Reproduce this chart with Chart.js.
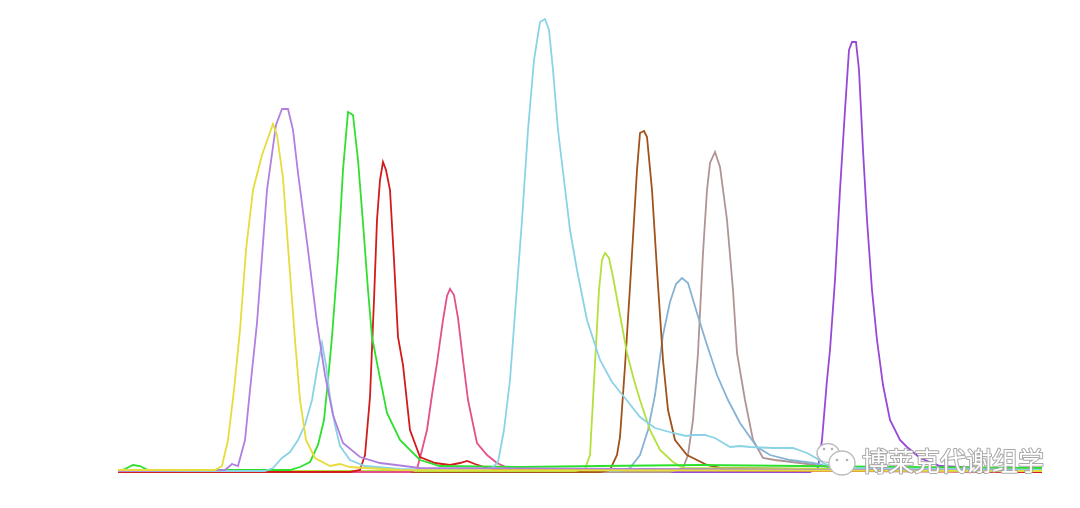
<!DOCTYPE html>
<html>
<head>
<meta charset="utf-8">
<script src="https://cdn.jsdelivr.net/npm/chart.js@4.4.2/dist/chart.umd.min.js"></script>
<style>
  html, body { margin: 0; padding: 0; background: #ffffff; }
  #wrap { width: 1080px; height: 508px; }
</style>
</head>
<body>
<div id="wrap"><canvas id="chrom" width="1080" height="508"></canvas></div>
<script>
// retention time (min), intensity (x10^4)
const yellowTrace = [[0,0.2],[0.97,0.2],[1.04,0.6],[1.10,3.2],[1.16,8.2],[1.22,14.2],[1.28,22.2],[1.35,28.2],[1.44,31.7],[1.55,34.8],[1.59,33.7],[1.65,29.4],[1.71,21.2],[1.77,13.2],[1.82,7.2],[1.88,3.2],[1.97,1.4],[2.12,0.6],[2.22,0.8],[2.32,0.5],[2.82,0.2],[9.24,0.1]];
const lavenderTrace = [[0,0.1],[1.07,0.2],[1.14,0.8],[1.20,0.6],[1.27,3.2],[1.32,8.2],[1.39,14.9],[1.49,28.2],[1.58,34.7],[1.64,36.3],[1.70,36.3],[1.75,34.2],[1.80,29.9],[1.90,22.2],[1.99,14.9],[2.07,9.7],[2.15,5.7],[2.25,2.9],[2.42,1.5],[2.62,0.9],[3.02,0.4],[9.24,0.1]];
const cyanTrace = [[0,0.1],[1.47,0.1],[1.55,0.4],[1.64,1.4],[1.72,2.0],[1.80,3.2],[1.87,4.7],[1.94,7.2],[1.99,10.2],[2.04,12.9],[2.08,10.7],[2.12,7.5],[2.17,4.7],[2.22,2.6],[2.32,1.2],[2.47,0.6],[2.82,0.3],[3.72,0.2],[3.80,1.0],[3.86,4.2],[3.92,9.2],[3.98,17.2],[4.04,25.2],[4.10,34.2],[4.16,41.2],[4.22,45.0],[4.27,45.3],[4.31,44.2],[4.35,40.2],[4.40,34.2],[4.46,29.2],[4.52,24.2],[4.59,20.2],[4.69,15.2],[4.82,11.2],[4.94,9.0],[5.07,7.4],[5.22,5.5],[5.37,4.4],[5.55,3.9],[5.68,3.6],[5.75,3.7],[5.87,3.7],[5.97,3.4],[6.12,2.5],[6.22,2.6],[6.32,2.5],[6.55,2.4],[6.75,2.4],[6.89,1.9],[6.98,1.4],[7.05,0.9],[7.17,0.4],[9.24,0.2]];
const greenTrace = [[0,0.1],[0.07,0.3],[0.15,0.7],[0.22,0.6],[0.30,0.2],[0.82,0.2],[1.72,0.2],[1.82,0.5],[1.92,1.0],[2.00,2.7],[2.06,5.2],[2.10,9.2],[2.14,13.5],[2.20,21.5],[2.25,30.2],[2.30,36.0],[2.35,35.7],[2.40,31.2],[2.45,24.9],[2.50,18.2],[2.54,13.5],[2.59,10.9],[2.69,5.9],[2.82,3.2],[3.02,1.2],[3.22,0.6],[4.02,0.5],[4.82,0.6],[5.82,0.7],[6.82,0.6],[7.82,0.5],[9.24,0.4]];
const redTrace = [[0,0],[2.32,0],[2.42,0.2],[2.47,1.7],[2.52,7.5],[2.56,17.2],[2.59,25.2],[2.62,29.2],[2.65,31.0],[2.68,30.2],[2.72,28.2],[2.76,21.2],[2.80,13.5],[2.85,10.7],[2.92,4.2],[3.02,1.5],[3.17,0.9],[3.32,0.7],[3.42,0.9],[3.49,1.1],[3.57,0.8],[3.72,0.3],[9.24,0]];
const pinkTrace = [[0,0],[2.92,0],[2.99,0.3],[3.04,2.2],[3.09,4.2],[3.14,7.7],[3.19,10.9],[3.25,15.2],[3.29,17.6],[3.32,18.3],[3.36,17.7],[3.40,15.4],[3.45,11.2],[3.50,7.2],[3.59,2.9],[3.69,1.7],[3.79,0.9],[3.92,0.3],[9.24,0.1]];
const limeTrace = [[0,0.1],[4.57,0.1],[4.67,0.3],[4.72,1.7],[4.75,7.2],[4.78,12.7],[4.81,18.2],[4.84,21.2],[4.87,21.9],[4.91,21.4],[4.95,19.5],[5.02,15.7],[5.09,11.9],[5.16,9.2],[5.22,7.2],[5.32,4.2],[5.42,2.2],[5.55,1.0],[5.65,0.4],[9.24,0.2]];
const brownTrace = [[0,0],[4.82,0],[4.92,0.2],[4.99,1.7],[5.02,3.5],[5.07,10.6],[5.12,18.5],[5.19,30.2],[5.22,33.9],[5.26,34.1],[5.29,33.5],[5.34,28.2],[5.39,20.2],[5.45,11.2],[5.50,6.2],[5.57,3.2],[5.69,1.7],[5.89,0.7],[6.02,0.4],[9.24,0]];
const steelTrace = [[0,0.1],[5.02,0.1],[5.12,0.4],[5.22,1.7],[5.30,4.2],[5.37,7.7],[5.45,13.7],[5.52,17.0],[5.58,18.8],[5.64,19.4],[5.70,18.9],[5.79,15.9],[5.89,12.7],[5.99,9.7],[6.10,7.2],[6.22,4.9],[6.39,2.5],[6.52,1.7],[6.72,1.2],[6.95,0.9],[7.12,0.5],[9.24,0.2]];
const taupeTrace = [[0,0],[5.52,0],[5.65,0.4],[5.70,1.7],[5.75,5.2],[5.80,11.9],[5.85,21.9],[5.89,28.2],[5.92,30.9],[5.97,32.0],[6.02,30.5],[6.09,25.2],[6.15,18.2],[6.19,11.9],[6.27,7.2],[6.35,3.2],[6.45,1.4],[6.57,1.2],[6.82,0.9],[7.12,0.5],[7.42,0.2],[9.24,0.1]];
const violetTrace = [[0,0],[6.92,0],[7.00,0.4],[7.04,3.2],[7.09,9.2],[7.12,12.2],[7.17,19.2],[7.22,28.2],[7.27,36.2],[7.31,42.2],[7.34,43.0],[7.38,43.0],[7.41,40.2],[7.45,32.2],[7.49,25.2],[7.54,18.2],[7.59,13.2],[7.65,8.7],[7.72,5.2],[7.82,3.2],[7.89,2.5],[8.02,1.4],[8.22,0.6],[9.24,0.1]];

const traces = [yellowTrace, lavenderTrace, cyanTrace, greenTrace, redTrace, pinkTrace, limeTrace, brownTrace, steelTrace, taupeTrace, violetTrace];
const traceColors = ["#e6dc3a", "#b07fe0", "#8ad3e6", "#2ee02e", "#d21c1c", "#e4508a", "#b4e03c", "#a0521a", "#86b2d4", "#b09494", "#9848d6"];

const timeRange = [0, 9.24];
const intensityRange = [0, 45.4];
const watermark = "博莱克代谢组学";

// watermark drawn on top, like the original screenshot
const watermarkPlugin = {
    id: "watermark",
    afterDraw(chart) {
        const ctx = chart.ctx;
        ctx.save();
        // wechat bubbles: small one up-left, big one down-right
        ctx.lineWidth = 1.4;
        ctx.strokeStyle = "#bdbdbd";
        ctx.fillStyle = "#ffffff";
        ctx.beginPath();
        ctx.ellipse(828, 453, 11, 9.5, 0, 0, Math.PI * 2);
        ctx.fill();
        ctx.stroke();
        ctx.beginPath();
        ctx.ellipse(842, 463, 13, 12, 0, 0, Math.PI * 2);
        ctx.fill();
        ctx.stroke();
        ctx.fillStyle = "#b0b0b0";
        [[824, 449], [832, 449], [837, 460], [847, 460]].forEach(([x, y]) => {
            ctx.beginPath();
            ctx.arc(x, y, 1.3, 0, Math.PI * 2);
            ctx.fill();
        });
        // text
        ctx.font = "26px 'Noto Sans CJK SC'";
        ctx.textBaseline = "middle";
        ctx.lineJoin = "round";
        ctx.lineWidth = 2;
        ctx.strokeStyle = "#a8a8a8";
        ctx.strokeText(watermark, 862, 461);
        ctx.fillStyle = "#ffffff";
        ctx.fillText(watermark, 862, 461);
        ctx.restore();
    }
};

new Chart(document.getElementById("chrom"), {
    type: "line",
    data: {
        datasets: traces.map((t, i) => ({
            data: t,
            borderColor: traceColors[i],
            borderWidth: 1.8,
            pointRadius: 0,
            tension: 0,
            fill: false,
            clip: false
        }))
    },
    options: {
        responsive: false,
        animation: false,
        layout: { padding: { left: 118, right: 38, top: 18, bottom: 36 } },
        scales: {
            x: { type: "linear", min: timeRange[0], max: timeRange[1], display: false },
            y: { min: intensityRange[0], max: intensityRange[1], display: false }
        },
        plugins: {
            legend: { display: false },
            tooltip: { enabled: false }
        }
    },
    plugins: [watermarkPlugin]
});
</script>
</body>
</html>
